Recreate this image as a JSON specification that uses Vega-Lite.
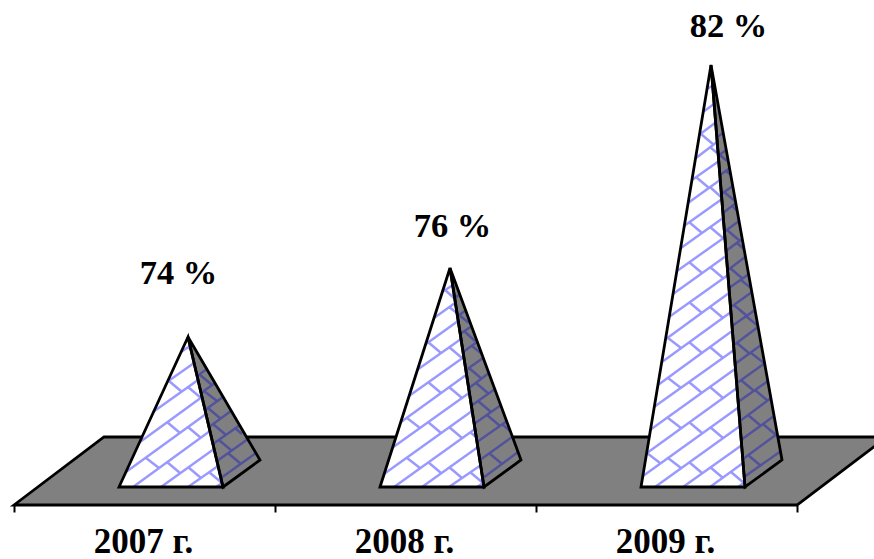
{"$schema":"https://vega.github.io/schema/vega-lite/v6.json","width":874,"height":505,"padding":{"left":0,"top":0,"right":0,"bottom":54},"autosize":"none","background":"white","config":{"view":{"stroke":null}},
"datasets":{
"plane":[{"x":0,"y":0,"y2":0},{"x":90,"y":68,"y2":0},{"x":783,"y":68,"y2":0},{"x":873,"y":68,"y2":68}],
"faces":[
{"face":"p1f","s":"front","x":105,"y":18,"y2":18},{"face":"p1f","s":"front","x":174,"y":168,"y2":18},{"face":"p1f","s":"front","x":209,"y":18,"y2":18},
{"face":"p1s","s":"side","x":174,"y":168,"y2":168},{"face":"p1s","s":"side","x":209,"y":108.2,"y2":18},{"face":"p1s","s":"side","x":246,"y":45,"y2":45},
{"face":"p2f","s":"front","x":366,"y":18,"y2":18},{"face":"p2f","s":"front","x":436,"y":237,"y2":18},{"face":"p2f","s":"front","x":470,"y":18,"y2":18},
{"face":"p2s","s":"side","x":436,"y":237,"y2":237},{"face":"p2s","s":"side","x":470,"y":145.1,"y2":18},{"face":"p2s","s":"side","x":507,"y":45,"y2":45},
{"face":"p3f","s":"front","x":627,"y":18,"y2":18},{"face":"p3f","s":"front","x":697,"y":440,"y2":18},{"face":"p3f","s":"front","x":731,"y":18,"y2":18},
{"face":"p3s","s":"side","x":697,"y":440,"y2":440},{"face":"p3s","s":"side","x":731,"y":250.8,"y2":18},{"face":"p3s","s":"side","x":768,"y":45,"y2":45}],
"lattice":[
{"s":"front","x":202,"y":18,"x2":208,"y2":22},{"s":"front","x":174,"y":18,"x2":204,"y2":39},{"s":"front","x":147,"y":18,"x2":200,"y2":56},{"s":"front","x":119,"y":18,"x2":196,"y2":74},{"s":"front","x":112,"y":33,"x2":192,"y2":91},{"s":"front","x":126,"y":63,"x2":188,"y2":108},{"s":"front","x":139,"y":93,"x2":184,"y2":125},{"s":"front","x":153,"y":123,"x2":180,"y2":142},{"s":"front","x":167,"y":153,"x2":176,"y2":159},
{"s":"front","x":195,"y":33,"x2":208,"y2":22},{"s":"front","x":174,"y":38,"x2":187,"y2":27},{"s":"front","x":153,"y":43,"x2":166,"y2":32},{"s":"front","x":132,"y":47,"x2":145,"y2":37},{"s":"front","x":174,"y":78,"x2":187,"y2":67},{"s":"front","x":153,"y":83,"x2":166,"y2":72},{"s":"front","x":174,"y":118,"x2":187,"y2":107},{"s":"front","x":155,"y":124,"x2":168,"y2":113},{"s":"front","x":174,"y":158,"x2":177,"y2":155},
{"s":"front","x":463,"y":18,"x2":469,"y2":22},{"s":"front","x":435,"y":18,"x2":467,"y2":40},{"s":"front","x":408,"y":18,"x2":464,"y2":58},{"s":"front","x":380,"y":18,"x2":461,"y2":76},{"s":"front","x":370,"y":31,"x2":458,"y2":94},{"s":"front","x":378,"y":57,"x2":455,"y2":112},{"s":"front","x":387,"y":83,"x2":452,"y2":130},{"s":"front","x":395,"y":109,"x2":450,"y2":148},{"s":"front","x":403,"y":135,"x2":447,"y2":166},{"s":"front","x":412,"y":161,"x2":444,"y2":184},{"s":"front","x":420,"y":187,"x2":441,"y2":202},{"s":"front","x":428,"y":213,"x2":439,"y2":220},
{"s":"front","x":456,"y":33,"x2":469,"y2":22},{"s":"front","x":435,"y":38,"x2":448,"y2":27},{"s":"front","x":414,"y":43,"x2":427,"y2":32},{"s":"front","x":456,"y":73,"x2":462,"y2":68},{"s":"front","x":393,"y":47,"x2":406,"y2":37},{"s":"front","x":435,"y":78,"x2":448,"y2":67},{"s":"front","x":414,"y":83,"x2":427,"y2":72},{"s":"front","x":393,"y":87,"x2":406,"y2":77},{"s":"front","x":435,"y":118,"x2":448,"y2":107},{"s":"front","x":414,"y":123,"x2":427,"y2":112},{"s":"front","x":435,"y":158,"x2":448,"y2":147},{"s":"front","x":414,"y":163,"x2":427,"y2":152},{"s":"front","x":435,"y":198,"x2":443,"y2":192},{"s":"front","x":431,"y":215,"x2":440,"y2":207},
{"s":"front","x":724,"y":18,"x2":731,"y2":23},{"s":"front","x":696,"y":18,"x2":729,"y2":42},{"s":"front","x":669,"y":18,"x2":728,"y2":60},{"s":"front","x":641,"y":18,"x2":726,"y2":79},{"s":"front","x":629,"y":29,"x2":725,"y2":98},{"s":"front","x":633,"y":52,"x2":723,"y2":117},{"s":"front","x":636,"y":75,"x2":721,"y2":136},{"s":"front","x":640,"y":98,"x2":720,"y2":155},{"s":"front","x":644,"y":120,"x2":718,"y2":174},{"s":"front","x":648,"y":143,"x2":717,"y2":193},{"s":"front","x":652,"y":166,"x2":715,"y2":212},{"s":"front","x":655,"y":188,"x2":714,"y2":230},{"s":"front","x":659,"y":211,"x2":712,"y2":249},{"s":"front","x":663,"y":234,"x2":711,"y2":268},{"s":"front","x":667,"y":257,"x2":709,"y2":287},{"s":"front","x":670,"y":279,"x2":708,"y2":306},{"s":"front","x":674,"y":302,"x2":706,"y2":325},{"s":"front","x":678,"y":325,"x2":705,"y2":344},{"s":"front","x":682,"y":347,"x2":703,"y2":363},{"s":"front","x":685,"y":370,"x2":701,"y2":382},{"s":"front","x":689,"y":393,"x2":700,"y2":401},{"s":"front","x":693,"y":416,"x2":698,"y2":419},
{"s":"front","x":717,"y":33,"x2":730,"y2":22},{"s":"front","x":696,"y":38,"x2":709,"y2":27},{"s":"front","x":675,"y":43,"x2":688,"y2":32},{"s":"front","x":654,"y":47,"x2":667,"y2":37},{"s":"front","x":696,"y":78,"x2":709,"y2":67},{"s":"front","x":633,"y":52,"x2":646,"y2":42},{"s":"front","x":675,"y":83,"x2":688,"y2":72},{"s":"front","x":654,"y":87,"x2":667,"y2":77},{"s":"front","x":696,"y":118,"x2":709,"y2":107},{"s":"front","x":675,"y":123,"x2":688,"y2":112},{"s":"front","x":654,"y":127,"x2":667,"y2":117},{"s":"front","x":696,"y":158,"x2":709,"y2":147},{"s":"front","x":675,"y":163,"x2":688,"y2":152},{"s":"front","x":654,"y":167,"x2":667,"y2":157},{"s":"front","x":696,"y":198,"x2":709,"y2":187},{"s":"front","x":675,"y":203,"x2":688,"y2":192},{"s":"front","x":696,"y":238,"x2":709,"y2":227},{"s":"front","x":675,"y":243,"x2":688,"y2":232},{"s":"front","x":696,"y":278,"x2":709,"y2":267},{"s":"front","x":675,"y":283,"x2":688,"y2":272},{"s":"front","x":696,"y":318,"x2":707,"y2":308},{"s":"front","x":682,"y":328,"x2":695,"y2":317},{"s":"front","x":696,"y":358,"x2":703,"y2":352},{"s":"front","x":687,"y":371,"x2":700,"y2":360},
{"s":"side","x":207,"y":27,"x2":242,"y2":52},{"s":"side","x":203,"y":44,"x2":234,"y2":66},{"s":"side","x":199,"y":61,"x2":226,"y2":80},{"s":"side","x":195,"y":78,"x2":217,"y2":94},{"s":"side","x":191,"y":95,"x2":209,"y2":108},{"s":"side","x":187,"y":112,"x2":201,"y2":122},{"s":"side","x":183,"y":129,"x2":193,"y2":136},
{"s":"side","x":214,"y":52,"x2":227,"y2":41},{"s":"side","x":205,"y":65,"x2":218,"y2":54},{"s":"side","x":221,"y":77,"x2":228,"y2":71},{"s":"side","x":199,"y":81,"x2":212,"y2":70},{"s":"side","x":194,"y":97,"x2":207,"y2":86},{"s":"side","x":190,"y":114,"x2":203,"y2":104},{"s":"side","x":185,"y":131,"x2":198,"y2":120},
{"s":"side","x":469,"y":27,"x2":504,"y2":53},{"s":"side","x":466,"y":45,"x2":498,"y2":68},{"s":"side","x":463,"y":63,"x2":493,"y2":84},{"s":"side","x":460,"y":81,"x2":487,"y2":100},{"s":"side","x":457,"y":99,"x2":481,"y2":116},{"s":"side","x":455,"y":117,"x2":475,"y2":132},{"s":"side","x":452,"y":135,"x2":469,"y2":147},{"s":"side","x":449,"y":153,"x2":463,"y2":163},{"s":"side","x":446,"y":171,"x2":458,"y2":179},{"s":"side","x":444,"y":189,"x2":452,"y2":195},{"s":"side","x":441,"y":207,"x2":446,"y2":211},
{"s":"side","x":475,"y":52,"x2":488,"y2":41},{"s":"side","x":488,"y":81,"x2":496,"y2":74},{"s":"side","x":473,"y":90,"x2":486,"y2":79},{"s":"side","x":464,"y":104,"x2":477,"y2":93},{"s":"side","x":462,"y":122,"x2":475,"y2":111},{"s":"side","x":455,"y":137,"x2":468,"y2":126},{"s":"side","x":458,"y":159,"x2":468,"y2":151},{"s":"side","x":450,"y":174,"x2":461,"y2":164},{"s":"side","x":445,"y":190,"x2":455,"y2":182},
{"s":"side","x":730,"y":28,"x2":767,"y2":54},{"s":"side","x":729,"y":46,"x2":763,"y2":71},{"s":"side","x":727,"y":65,"x2":760,"y2":89},{"s":"side","x":726,"y":84,"x2":757,"y2":107},{"s":"side","x":724,"y":103,"x2":754,"y2":124},{"s":"side","x":723,"y":122,"x2":751,"y2":142},{"s":"side","x":721,"y":141,"x2":747,"y2":160},{"s":"side","x":720,"y":160,"x2":744,"y2":178},{"s":"side","x":718,"y":179,"x2":741,"y2":195},{"s":"side","x":717,"y":198,"x2":738,"y2":213},{"s":"side","x":715,"y":217,"x2":735,"y2":231},{"s":"side","x":714,"y":235,"x2":731,"y2":248},{"s":"side","x":712,"y":254,"x2":728,"y2":266},{"s":"side","x":710,"y":273,"x2":725,"y2":284},{"s":"side","x":709,"y":292,"x2":722,"y2":302},{"s":"side","x":707,"y":311,"x2":719,"y2":319},{"s":"side","x":706,"y":330,"x2":716,"y2":337},{"s":"side","x":704,"y":349,"x2":712,"y2":355},{"s":"side","x":703,"y":368,"x2":709,"y2":372},
{"s":"side","x":734,"y":50,"x2":747,"y2":39},{"s":"side","x":749,"y":81,"x2":762,"y2":70},{"s":"side","x":734,"y":90,"x2":747,"y2":79},{"s":"side","x":741,"y":115,"x2":754,"y2":104},{"s":"side","x":727,"y":125,"x2":740,"y2":114},{"s":"side","x":737,"y":152,"x2":750,"y2":142},{"s":"side","x":723,"y":162,"x2":736,"y2":151},{"s":"side","x":732,"y":189,"x2":744,"y2":179},{"s":"side","x":720,"y":200,"x2":733,"y2":189},{"s":"side","x":727,"y":225,"x2":737,"y2":217},{"s":"side","x":716,"y":237,"x2":729,"y2":226},{"s":"side","x":723,"y":262,"x2":730,"y2":256},{"s":"side","x":713,"y":275,"x2":726,"y2":264},{"s":"side","x":718,"y":299,"x2":723,"y2":294},{"s":"side","x":710,"y":313,"x2":721,"y2":304},{"s":"side","x":712,"y":334,"x2":717,"y2":330},{"s":"side","x":706,"y":350,"x2":713,"y2":344}],
"labels":[{"x":164.5,"y":221,"t":"74 %","k":"v"},{"x":438.5,"y":268,"t":"76 %","k":"v"},{"x":714.5,"y":468,"t":"82 %","k":"v"},{"x":129.5,"y":-48,"t":"2007 г.","k":"c"},{"x":390.5,"y":-48,"t":"2008 г.","k":"c"},{"x":651.5,"y":-48,"t":"2009 г.","k":"c"}]},
"encoding":{"x":{"field":"x","type":"quantitative","scale":{"domain":[-14,860],"nice":false,"zero":false},"axis":{"values":[0,261,522,783],"domain":false,"grid":false,"labels":false,"title":null,"tickSize":7,"tickWidth":2,"tickColor":"black"}},
"y":{"field":"y","type":"quantitative","scale":{"domain":[0,505],"nice":false,"zero":false},"axis":null}},
"layer":[
{"data":{"name":"plane"},"mark":{"type":"area","fill":"#808080","stroke":"black","strokeWidth":2.8},"encoding":{"y2":{"field":"y2"}}},
{"data":{"name":"faces"},"mark":{"type":"area"},"encoding":{"y2":{"field":"y2"},"detail":{"field":"face"},"fill":{"field":"s","type":"nominal","scale":{"domain":["front","side"],"range":["#ffffff","#808080"]},"legend":null}}},
{"data":{"name":"lattice"},"mark":{"type":"rule","strokeWidth":2.4},"encoding":{"x2":{"field":"x2"},"y2":{"field":"y2"},"stroke":{"field":"s","type":"nominal","scale":{"domain":["front","side"],"range":["#9999ff","#52529c"]},"legend":null}}},
{"data":{"name":"faces"},"mark":{"type":"area","fillOpacity":0,"fill":"white","stroke":"black","strokeWidth":2.8},"encoding":{"y2":{"field":"y2"},"detail":{"field":"face"}}},
{"data":{"name":"labels"},"transform":[{"filter":"datum.k=='v'"}],"mark":{"type":"text","font":"Liberation Serif","fontWeight":"bold","fontSize":34.5,"color":"black","align":"center","baseline":"alphabetic"},"encoding":{"text":{"field":"t"}}},
{"data":{"name":"labels"},"transform":[{"filter":"datum.k=='c'"}],"mark":{"type":"text","font":"Liberation Serif","fontWeight":"bold","fontSize":35,"color":"black","align":"center","baseline":"alphabetic"},"encoding":{"text":{"field":"t"}}}
]}
